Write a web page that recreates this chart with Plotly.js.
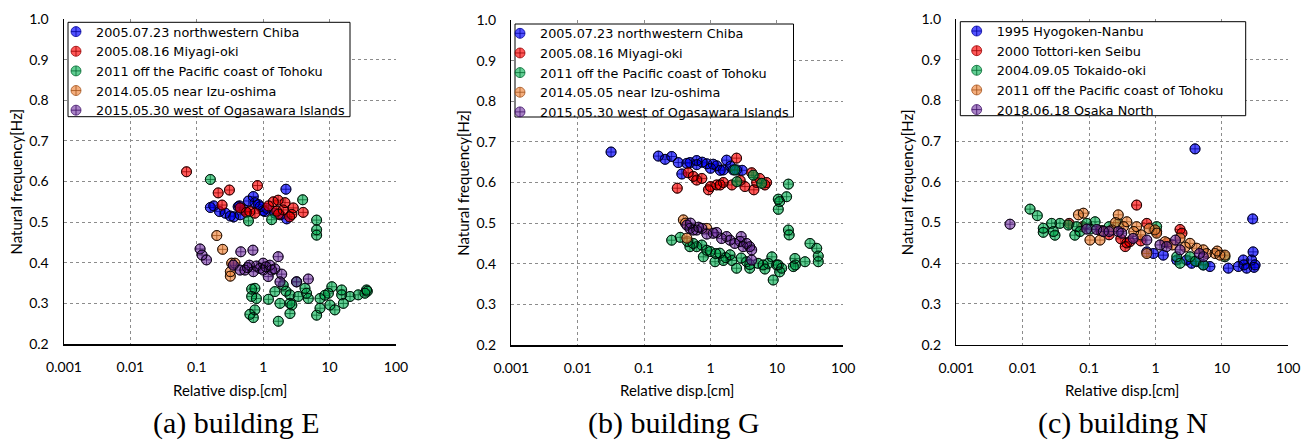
<!DOCTYPE html>
<html><head><meta charset="utf-8">
<script src="https://cdn.plot.ly/plotly-3.0.1.min.js"></script>
<style>html,body{margin:0;padding:0;background:#fff}#chart{width:1309px;height:441px}</style>
</head><body><div id="chart"></div>
<script>
// ---------- data ----------
const tickVals = [0.001, 0.01, 0.1, 1, 10, 100];
const tickText = ['0.001', '0.01', '0.1', '1', '10', '100'];
const namesEG = ['2005.07.23 northwestern Chiba', '2005.08.16 Miyagi-oki', '2011 off the Pacific coast of Tohoku', '2014.05.05 near Izu-oshima', '2015.05.30 west of Ogasawara Islands'];
const namesN = ['1995 Hyogoken-Nanbu', '2000 Tottori-ken Seibu', '2004.09.05 Tokaido-oki', '2011 off the Pacific coast of Tohoku', '2018.06.18 Osaka North'];
const captions = ['(a) building E', '(b) building G', '(c) building N'];
const xTitle = 'Relative disp.[cm]';
const yTitle = 'Natural frequency[Hz]';

// building E
const eBlueX = [2.2,0.71,0.44,0.18,0.22,0.36,0.45,0.75,1.13,2.26,1.79,0.27,0.6,0.9,1.0,0.32,0.52,0.85,1.5,0.16,0.42,1.06];
const eBlueY = [0.581,0.563,0.540,0.540,0.526,0.513,0.518,0.548,0.534,0.508,0.518,0.522,0.552,0.538,0.528,0.515,0.530,0.543,0.522,0.536,0.538,0.526];
const eRedX = [0.07,0.21,0.31,0.24,0.82,0.56,0.63,0.75,1.42,1.6,2.0,2.13,2.7,2.84,4.0,2.5,1.2,1.7,0.45,1.68];
const eRedY = [0.624,0.572,0.579,0.542,0.590,0.524,0.526,0.522,0.550,0.527,0.530,0.548,0.519,0.535,0.524,0.513,0.540,0.520,0.535,0.554];
const eGreenX = [0.16,3.93,6.38,6.38,6.38,0.6,1.34,3.2,2.0,0.67,0.75,0.67,0.79,0.75,0.63,0.71,1.5,1.79,1.69,2.53,2.53,2.7,2.53,3.37,4.26,4.78,7.17,6.38,7.17,10.8,9.6,10.1,12.0,15.2,15.2,16.1,20.3,27,36,37,34,4.5,8.5,2.2,1.2];
const eGreenY = [0.605,0.555,0.505,0.481,0.468,0.503,0.506,0.353,0.345,0.335,0.337,0.317,0.312,0.284,0.273,0.265,0.329,0.300,0.256,0.321,0.300,0.296,0.275,0.317,0.337,0.312,0.312,0.271,0.288,0.341,0.325,0.296,0.284,0.333,0.321,0.300,0.317,0.321,0.333,0.330,0.325,0.325,0.320,0.330,0.310];
const eOrangeX = [0.2,0.245,0.335,0.32,0.32,0.375];
const eOrangeY = [0.467,0.433,0.399,0.378,0.367,0.399];
const ePurpleX = [0.112,0.12,0.14,0.46,0.70,1.68,4.78,3.17,0.355,0.53,0.62,0.79,1.0,1.0,1.26,1.34,1.19,1.9,1.79,0.89,0.45,0.71,0.58,1.1,1.5];
const ePurpleY = [0.434,0.419,0.407,0.427,0.431,0.415,0.360,0.353,0.394,0.382,0.394,0.392,0.399,0.382,0.394,0.382,0.366,0.372,0.353,0.386,0.382,0.378,0.388,0.390,0.385];

// building G
const gBlueX = [0.0318,0.164,0.207,0.26,0.327,0.44,0.49,0.62,0.62,0.88,1.24,1.75,1.56,2.2,2.47,0.37,1.0,1.4,0.75,3.0,2.0,1.1];
const gBlueY = [0.675,0.665,0.657,0.664,0.649,0.647,0.649,0.654,0.644,0.646,0.641,0.655,0.631,0.631,0.631,0.621,0.635,0.630,0.650,0.630,0.640,0.645];
const gRedX = [0.316,0.46,0.62,0.74,0.93,1.24,1.56,2.47,4.17,4.96,7.0,4.5,3.3,2.1,1.4,6.6,0.55,1.0,5.5,2.8];
const gRedY = [0.586,0.624,0.606,0.610,0.582,0.594,0.600,0.660,0.624,0.600,0.600,0.582,0.590,0.594,0.594,0.594,0.615,0.590,0.610,0.605];
const gGreenX = [14.9,10.5,14.0,2.32,2.5,5.9,4.4,10.5,11,14.9,15.3,31.5,39.8,42,42,26.5,18.7,17.7,19,8.4,8.8,11,9.9,7.4,6.2,6.6,5.2,3.9,3.5,2.47,2.1,1.56,1.17,0.78,0.62,0.49,0.35,0.26,0.99,1.38,1.97,2.9,3.9,10.5,11.8,0.74,0.88,0.55,1.2,1.7,0.45];
const gGreenY = [0.596,0.559,0.565,0.631,0.602,0.598,0.618,0.534,0.553,0.483,0.471,0.450,0.438,0.419,0.405,0.405,0.413,0.393,0.397,0.417,0.360,0.380,0.397,0.401,0.397,0.387,0.401,0.389,0.405,0.389,0.408,0.408,0.405,0.417,0.442,0.442,0.465,0.458,0.430,0.426,0.422,0.414,0.398,0.397,0.389,0.446,0.433,0.450,0.425,0.415,0.455];
const gOrangeX = [0.39,0.44,0.88,0.42];
const gOrangeY = [0.508,0.463,0.487,0.500];
const gPurpleX = [0.44,0.55,0.74,1.1,1.24,1.75,1.97,2.9,2.78,3.5,4.17,4.17,0.49,0.62,0.88,1.47,2.32,3.1,3.9,0.5,0.66];
const gPurpleY = [0.495,0.483,0.487,0.475,0.477,0.467,0.458,0.467,0.455,0.450,0.434,0.409,0.487,0.483,0.473,0.462,0.450,0.442,0.442,0.500,0.490];

// building N
const nBlueX = [3.94,29.1,29.5,28,31.6,23.6,21,17.7,12.5,6.6,5.25,4.17,2.95,2.09,1.31,0.93,0.74,21.5,3.5,30.5];
const nBlueY = [0.681,0.509,0.428,0.408,0.396,0.388,0.408,0.392,0.388,0.392,0.396,0.404,0.408,0.408,0.420,0.424,0.428,0.396,0.400,0.390];
const nRedX = [0.52,0.74,2.34,2.5,0.35,0.37,0.41,1.04,0.05,0.08,0.2,0.3,0.15,0.6,1.5];
const nRedY = [0.543,0.498,0.483,0.474,0.441,0.450,0.453,0.478,0.498,0.490,0.470,0.460,0.480,0.455,0.450];
const nGreenX = [0.0129,0.0166,0.0204,0.0204,0.0273,0.0306,0.029,0.0364,0.0486,0.065,0.061,0.073,0.092,0.123,0.105,0.275,1.04,2.34,5.25,11.1,3.3,2.09,0.2,0.16,4.0];
const nGreenY = [0.533,0.517,0.486,0.476,0.498,0.469,0.478,0.498,0.494,0.490,0.469,0.478,0.498,0.502,0.484,0.498,0.490,0.400,0.396,0.416,0.416,0.416,0.490,0.480,0.405];
const nOrangeX = [0.069,0.082,0.103,0.146,0.275,0.37,0.52,0.74,0.98,1.04,1.39,2.34,3.3,4.17,5.9,7.9,9.3,11.1,0.164,0.22,0.33,0.47,5.25,8.5,0.25,0.6,1.8,2.8,0.8];
const nOrangeY = [0.519,0.523,0.457,0.457,0.519,0.502,0.490,0.424,0.482,0.474,0.453,0.462,0.449,0.437,0.424,0.424,0.420,0.420,0.478,0.482,0.490,0.478,0.433,0.430,0.500,0.470,0.445,0.440,0.485];
const nPurpleX = [0.00644,0.13,0.164,0.2,0.31,0.46,0.74,1.17,1.47,2.0,2.34,5.25,4.6,0.092,0.275];
const nPurpleY = [0.496,0.483,0.478,0.478,0.474,0.461,0.457,0.445,0.441,0.457,0.433,0.416,0.424,0.484,0.478];

// ---------- styling ----------
const W = 1309, H = 441;
const fills = ['rgba(0,0,255,0.68)', 'rgba(255,0,0,0.65)', 'rgba(0,176,80,0.62)', 'rgba(240,140,70,0.7)', 'rgba(112,48,160,0.6)'];
const crossCol = ['rgba(0,0,150,0.75)', 'rgba(150,0,0,0.75)', 'rgba(0,100,45,0.75)', 'rgba(160,80,25,0.75)', 'rgba(60,15,100,0.75)'];
const FONT = 'Lato, "Open Sans", sans-serif';
const LFONT = '"DejaVu Sans", "Open Sans", sans-serif';

const panels = [
  {names: namesEG, xs: [eBlueX, eRedX, eGreenX, eOrangeX, ePurpleX], ys: [eBlueY, eRedY, eGreenY, eOrangeY, ePurpleY],
   px: [64, 396], py: [19, 344], box: [68, 22.3, 350, 116.7], sym: 85, cap: 236},
  {names: namesEG, xs: [gBlueX, gRedX, gGreenX, gOrangeX, gPurpleX], ys: [gBlueY, gRedY, gGreenY, gOrangeY, gPurpleY],
   px: [511.3, 843.3], py: [20, 345], box: [515, 24, 793.5, 117], sym: 529, cap: 674},
  {names: namesN, xs: [nBlueX, nRedX, nGreenX, nOrangeX, nPurpleX], ys: [nBlueY, nRedY, nGreenY, nOrangeY, nPurpleY],
   px: [956.3, 1288.3], py: [19, 344.7], box: [960.3, 21.7, 1245.7, 115.7], sym: 985.7, cap: 1122.5}
];

const traces = [];
const layout = {
  width: W, height: H, margin: {l: 0, r: 0, t: 0, b: 0},
  paper_bgcolor: '#fff', plot_bgcolor: '#fff', showlegend: true,
  font: {family: FONT, color: '#000'},
  shapes: [], annotations: []
};

panels.forEach((p, i) => {
  const s = i === 0 ? '' : String(i + 1);
  const legKey = 'legend' + s;
  p.names.forEach((nm, k) => {
    const grp = 'g' + i + '_' + k;
    traces.push({
      type: 'scatter', mode: 'markers', name: nm, legendgroup: grp,
      x: p.xs[k], y: p.ys[k], xaxis: 'x' + s, yaxis: 'y' + s, legend: legKey,
      marker: {symbol: 'circle-cross', size: 10, color: fills[k], line: {color: crossCol[k], width: 1}},
      hoverinfo: 'x+y'
    });
    traces.push({
      type: 'scatter', mode: 'markers', name: nm, legendgroup: grp, showlegend: false,
      x: p.xs[k], y: p.ys[k], xaxis: 'x' + s, yaxis: 'y' + s, legend: legKey,
      marker: {symbol: 'circle-open', size: 10, color: 'rgba(0,0,0,0.85)', line: {color: 'rgba(0,0,0,0.85)', width: 1}},
      hoverinfo: 'skip'
    });
  });
  const ax = {
    type: 'log', range: [-3, 2], domain: [p.px[0] / W, p.px[1] / W], anchor: 'y' + s,
    tickmode: 'array', tickvals: tickVals, ticktext: tickText, ticks: '',
    showgrid: true, gridcolor: '#8c8c8c', griddash: 'dot', gridwidth: 1,
    showline: true, linecolor: '#000', linewidth: 1.5, mirror: false, zeroline: false,
    tickfont: {family: FONT, size: 14, color: '#000'}, ticklabelstandoff: 10
  };
  const ay = {
    range: [0.2, 1.0], domain: [1 - p.py[1] / H, 1 - p.py[0] / H], anchor: 'x' + s,
    dtick: 0.1, tick0: 0.2, tickformat: '.1f', ticks: '',
    showgrid: true, gridcolor: '#8c8c8c', griddash: 'dot', gridwidth: 1,
    showline: true, linecolor: '#000', linewidth: 1.5, mirror: false, zeroline: false,
    tickfont: {family: FONT, size: 14, color: '#000'}, ticklabelstandoff: 11
  };
  layout['xaxis' + s] = ax;
  layout['yaxis' + s] = ay;
  const b = p.box;
  layout.shapes.push({type: 'rect', xref: 'paper', yref: 'paper', layer: 'above',
    x0: b[0] / W, x1: b[2] / W, y0: 1 - b[3] / H, y1: 1 - b[1] / H,
    line: {color: '#000', width: 1}, fillcolor: '#fff'});
  layout[legKey] = {
    x: (p.sym - 29) / W, y: 1 - (b[1] - 5.5) / H, xanchor: 'left', yanchor: 'top',
    bgcolor: 'rgba(0,0,0,0)', borderwidth: 0,
    font: {family: LFONT, size: 12.8, color: '#000'}, tracegroupgap: 0
  };
  const cx = (p.px[0] + p.px[1]) / 2;
  layout.annotations.push({xref: 'paper', yref: 'paper', x: cx / W, y: 1 - 390 / H, xanchor: 'center', yanchor: 'middle',
    text: xTitle, showarrow: false, font: {family: FONT, size: 15, color: '#000'}});
  layout.annotations.push({xref: 'paper', yref: 'paper', x: (p.px[0] - 49) / W, y: 1 - ((p.py[0] + p.py[1]) / 2) / H,
    xanchor: 'center', yanchor: 'middle', textangle: -90,
    text: yTitle, showarrow: false, font: {family: FONT, size: 15, color: '#000'}});
  layout.annotations.push({xref: 'paper', yref: 'paper', x: p.cap / W, y: 1 - 423 / H, xanchor: 'center', yanchor: 'middle',
    text: captions[i], showarrow: false, font: {family: '"Liberation Serif", "DejaVu Serif", serif', size: 30, color: '#000'}});
});

Plotly.newPlot('chart', traces, layout, {displayModeBar: false, staticPlot: true});
</script></body></html>
